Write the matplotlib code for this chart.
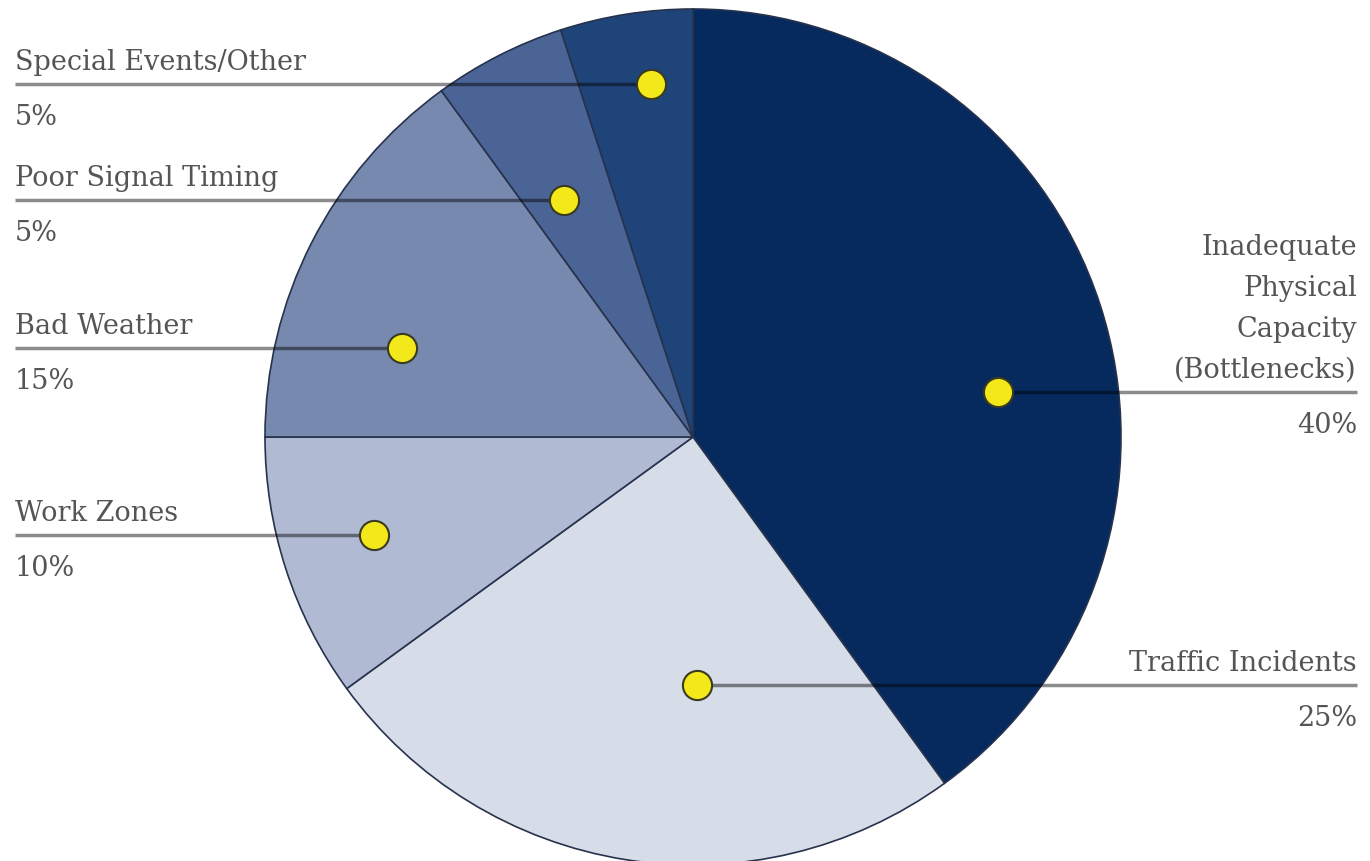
import matplotlib.pyplot as plt
import numpy as np

# slice data, clockwise from 12 o'clock
causes = ["Inadequate\nPhysical\nCapacity\n(Bottlenecks)", "Traffic Incidents", "Work Zones",
          "Bad Weather", "Poor Signal Timing", "Special Events/Other"]
shares = [40, 25, 10, 15, 5, 5]
pct_labels = ["40%", "25%", "10%", "15%", "5%", "5%"]
colors = ["#062a5e", "#d7dce9", "#b1bad3", "#7889b0", "#4b6496", "#1f4479"]

# layout (pixels): where each yellow dot sits, as (angle deg, fraction of radius)
dot_polar = [(8.4, 0.72), (-89.0, 0.58), (197.0, 0.78), (163.0, 0.71), (118.6, 0.63), (96.8, 0.83)]
label_side = ["right", "right", "left", "left", "left", "left"]

W, H = 1370, 862
cx, cy, R = 693, H - 438, 428

fig = plt.figure(figsize=(13.7, 8.62), dpi=100)
ax = fig.add_axes([0, 0, 1, 1])

ax.pie(shares, colors=colors, startangle=90, counterclock=False,
       center=(cx, cy), radius=R,
       wedgeprops=dict(edgecolor="#27324d", linewidth=1.2))
ax.set_xlim(0, W)
ax.set_ylim(0, H)
ax.set_aspect("equal")
ax.axis("off")

font = dict(family="DejaVu Serif", size=19.5, color="#555555")

for name, pct, (ang, frac), side in zip(causes, pct_labels, dot_polar, label_side):
    dx = cx + frac * R * np.cos(np.radians(ang))
    dy = cy + frac * R * np.sin(np.radians(ang))
    if side == "left":
        x_end, ha = 15, "left"
    else:
        x_end, ha = 1357, "right"
    ax.plot([x_end, dx], [dy, dy], color="black", alpha=0.45, lw=2.5,
            solid_capstyle="butt", zorder=3)
    ax.plot(dx, dy, "o", ms=21, mfc="#f3e81a", mec="#3a3a20", mew=1.5, zorder=4)
    ax.text(x_end, dy + 9, name, ha=ha, va="bottom", linespacing=1.66, **font)
    ax.text(x_end, dy - 19, pct, ha=ha, va="top", **font)

fig.savefig("out.png", dpi=100, facecolor="white")
